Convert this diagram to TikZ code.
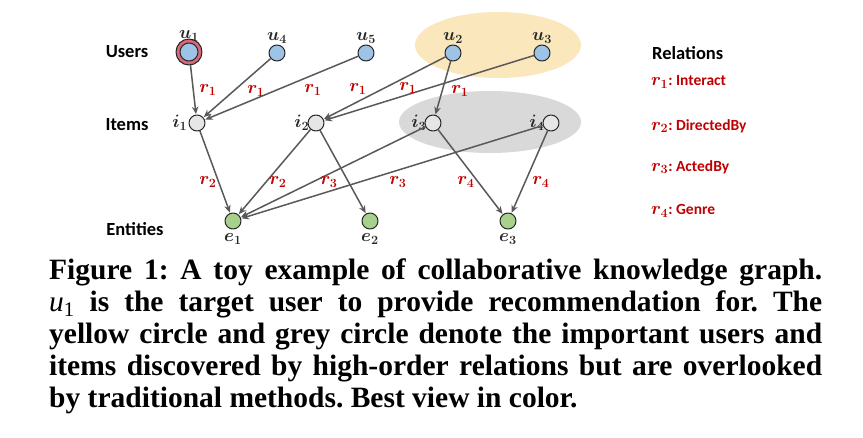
\RequirePackage{fix-cm}
\documentclass[tikz,border=0pt]{standalone}
\usepackage{amsmath, bm}
\usepackage{fontspec}
\setmainfont{Liberation Serif}
\newfontfamily\labelfont{Carlito}
\usetikzlibrary{arrows.meta, positioning}
\definecolor{kg-user}{HTML}{9DC3E6}
\definecolor{kg-item}{HTML}{E7E6E6}
\definecolor{kg-entity}{HTML}{A9D18E}
\definecolor{kg-target}{HTML}{D9677A}
\definecolor{kg-yellow}{HTML}{FBE7BC}
\definecolor{kg-grey}{HTML}{D9D9D9}
\definecolor{kg-edge}{HTML}{595959}
\definecolor{kg-rel}{HTML}{C00000}
\definecolor{kg-ink}{HTML}{262626}

\begin{document}
\frenchspacing
\begin{tikzpicture}[x=1pt, y=-1pt, >=Stealth, line cap=round, line join=round,
    kgnode/.style={circle, draw=kg-ink, line width=1pt, minimum size=16pt, inner sep=0pt},
    usernode/.style={kgnode, fill=kg-user},
    itemnode/.style={kgnode, fill=kg-item},
    entnode/.style={kgnode, fill=kg-entity},
    targetring/.style={kgnode, fill=kg-target, minimum size=26pt},
    nodelab/.style={font=\fontsize{18}{18}\selectfont, text=kg-ink, inner sep=1pt},
    kgedge/.style={->, draw=kg-edge, line width=1.5pt, shorten >=0.5pt,
      -{Stealth[length=7.5pt, width=6.5pt]}},
    rlab/.style={font=\fontsize{18}{18}\selectfont, text=kg-rel},
    layerlab/.style={font=\labelfont\bfseries\fontsize{18.5}{18.5}\selectfont, text=black},
    rellab/.style={font=\labelfont\bfseries\fontsize{15.5}{15.5}\selectfont, text=kg-rel,
      anchor=west, inner sep=0pt}]
  \useasboundingbox (0,0) rectangle (863,437);
  % highlighted groups
  \fill[kg-yellow] (498,45) ellipse (83 and 33);
  \fill[kg-grey] (490,122) ellipse (91 and 31);
  % layer names
  \node[layerlab] (lusers) at (127,52) {Users};
  \node[layerlab] (litems) at (127,125) {Items};
  \node[layerlab] (lents) at (135,229) {Entities};
  % users
  \node[targetring, label={[nodelab, label distance=-4pt]above:$\bm{u_1}$}] (u1ring) at (189,52) {};
  \node[usernode, minimum size=18pt] (u1) at (189,52) {};
  \node[usernode, label={[nodelab]above:$\bm{u_4}$}] (u4) at (277,53) {};
  \node[usernode, label={[nodelab]above:$\bm{u_5}$}] (u5) at (366,53) {};
  \node[usernode, label={[nodelab]above:$\bm{u_2}$}] (u2) at (453,53) {};
  \node[usernode, label={[nodelab]above:$\bm{u_3}$}] (u3) at (542,53) {};
  % items
  \node[itemnode, label={[nodelab]left:$\bm{i_1}$}] (i1) at (197,123) {};
  \node[itemnode, label={[nodelab, label distance=-3pt]left:$\bm{i_2}$}] (i2) at (316,123) {};
  \node[itemnode, label={[nodelab, label distance=-3pt]left:$\bm{i_3}$}] (i3) at (433,123) {};
  \node[itemnode, label={[nodelab, label distance=-3pt]left:$\bm{i_4}$}] (i4) at (551,123) {};
  % entities
  \node[entnode, label={[nodelab, label distance=3pt]below:$\bm{e_1}$}] (e1) at (233,221) {};
  \node[entnode, label={[nodelab, label distance=3pt]below:$\bm{e_2}$}] (e2) at (370,221) {};
  \node[entnode, label={[nodelab, label distance=3pt]below:$\bm{e_3}$}] (e3) at (508,221) {};
  % interactions
  \draw[kgedge] (u1ring) -- (i1);
  \draw[kgedge] (u4) -- (i1);
  \draw[kgedge] (u5) -- (i1);
  \draw[kgedge] (u2) -- (i2);
  \draw[kgedge] (u3) -- (i2);
  \draw[kgedge] (u2) -- (i3);
  % knowledge
  \draw[kgedge] (i1) -- (e1);
  \draw[kgedge] (i2) -- (e1);
  \draw[kgedge] (i2) -- (e2);
  \draw[kgedge] (i3) -- (e1);
  \draw[kgedge] (i4) -- (e1);
  \draw[kgedge] (i3) -- (e3);
  \draw[kgedge] (i4) -- (e3);
  % relation tags
  \foreach \x/\y/\r in {208/90/1, 256/91/1, 313/90/1, 358/89/1, 408/88/1, 460/91/1,
                        208/182/2, 278/182/2, 329/182/3, 398/182/3, 466/182/4, 541/182/4}{
    \node[rlab] at (\x,\y) {$\bm{r_{\r}}$};
  }
  % legend
  \node[layerlab, anchor=west, inner sep=0pt] (lrel) at (652,53) {Relations};
  \node[rellab] (rel1) at (651,82) {\fontsize{18}{18}\selectfont$\bm{r_1}$\fontsize{15.5}{15.5}\selectfont: Interact};
  \node[rellab] (rel2) at (651,126) {\fontsize{18}{18}\selectfont$\bm{r_2}$\fontsize{15.5}{15.5}\selectfont: DirectedBy};
  \node[rellab] (rel3) at (651,167) {\fontsize{18}{18}\selectfont$\bm{r_3}$\fontsize{15.5}{15.5}\selectfont: ActedBy};
  \node[rellab] (rel4) at (651,211) {\fontsize{18}{18}\selectfont$\bm{r_4}$\fontsize{15.5}{15.5}\selectfont: Genre};
  % caption
  \node[anchor=north west, inner sep=0pt, text width=773pt, align=justify,
    font=\bfseries\fontsize{29.5}{32}\selectfont] (caption) at (49,259)
    {Figure 1: A toy example of collaborative knowledge graph.\linebreak
     {\mdseries\itshape u}\textsubscript{\mdseries 1} is the target user to provide recommendation for. The\linebreak
     yellow circle and grey circle denote the important users and\linebreak
     items discovered by high-order relations but are overlooked\linebreak
     by traditional methods. Best view in color.};
\end{tikzpicture}
\end{document}
